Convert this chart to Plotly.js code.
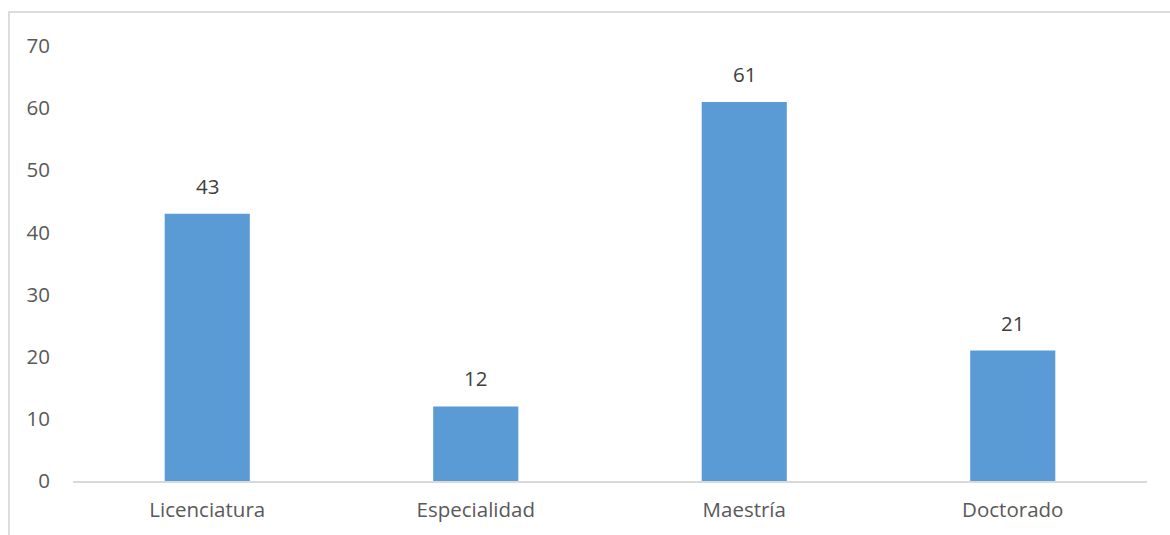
<!DOCTYPE html>
<html>
<head>
<meta charset="utf-8">
<script src="https://cdn.plot.ly/plotly-3.0.1.min.js"></script>
<style>
  html, body { margin: 0; padding: 0; background: #fff; }
  #frame {
    position: absolute; left: 8px; top: 11px;
    width: 1162px; height: 524px; box-sizing: border-box;
    border-top: 2px solid #dcdcdc; border-left: 2px solid #dcdcdc;
  }
</style>
</head>
<body>
<div id="frame"><div id="chart"></div></div>
<script>
// Nivel de estudios: número de personas por grado
const categories = ['Licenciatura', 'Especialidad', 'Maestría', 'Doctorado'];
const counts = [43, 12, 61, 21];
const yTicks = [0, 10, 20, 30, 40, 50, 60, 70];

const font = '"Open Sans", Lato, sans-serif';

const trace = {
  type: 'bar',
  x: categories,
  y: counts,
  marker: { color: '#5b9bd5' },
  hoverinfo: 'x+y'
};

const labels = categories.map((c, i) => ({
  x: c, y: counts[i], xref: 'x', yref: 'y',
  text: String(counts[i]), showarrow: false,
  yanchor: 'middle', yshift: 28,
  font: { family: font, size: 20.5, color: '#404040' }
}));

const layout = {
  width: 1160, height: 522,
  margin: { l: 63, r: 23, t: 33, b: 54 },
  paper_bgcolor: '#fff', plot_bgcolor: '#fff',
  bargap: 0.683,
  showlegend: false,
  xaxis: {
    showline: true, linecolor: '#d9d9d9', linewidth: 2,
    showgrid: false, zeroline: false,
    ticks: '', ticklabelstandoff: 9,
    tickfont: { family: font, size: 20.5, color: '#595959' }
  },
  yaxis: {
    range: [0, 70], tickvals: yTicks,
    showgrid: false, zeroline: false, showline: false,
    ticks: '', ticklabelstandoff: 22,
    tickfont: { family: font, size: 20.5, color: '#595959' }
  },
  annotations: labels
};

Plotly.newPlot('chart', [trace], layout, { displayModeBar: false, staticPlot: true });
</script>
</body>
</html>
